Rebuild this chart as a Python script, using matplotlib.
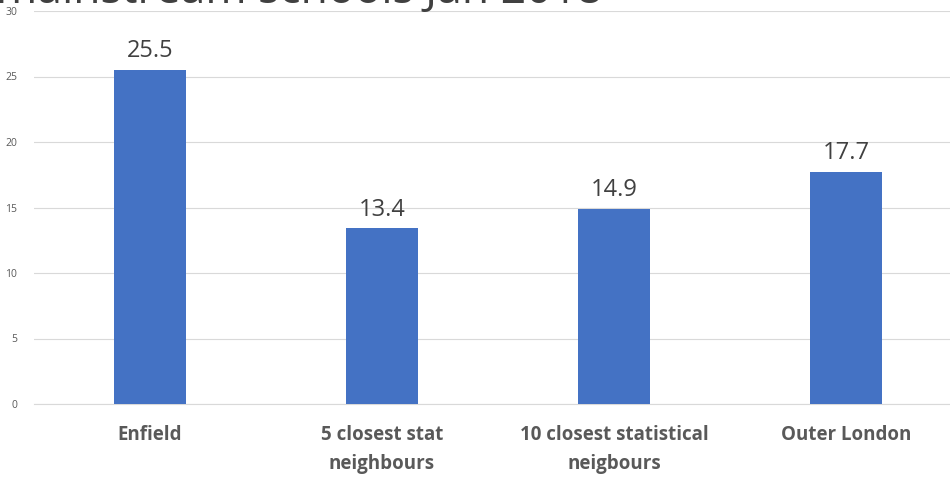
import matplotlib.pyplot as plt

categories = ['Enfield', '5 closest stat\nneighbours', '10 closest statistical\nneigbours', 'Outer London']
values = [25.5, 13.4, 14.9, 17.7]
yticks = [0, 5, 10, 15, 20, 25, 30]
title = 'mainstream schools Jan 2018'

bar_color = '#4472C4'
text_gray = '#595959'

fig = plt.figure(figsize=(9.5, 4.78), dpi=100)
ax = fig.add_axes([34 / 950, 1 - 404 / 478, 1 - 34 / 950, (404 - 11) / 478])

x = range(len(categories))
bars = ax.bar(x, values, width=0.31, color=bar_color, zorder=3)

# value labels above each bar
for xi, v in zip(x, values):
    ax.annotate(f'{v}', (xi, v), xytext=(0, 5), textcoords='offset points',
                ha='center', va='bottom', fontsize=17, color='#404040',
                family='Open Sans')

ax.set_xlim(-0.5, 3.448)
ax.set_ylim(0, 30)
ax.set_yticks(yticks)
ax.set_yticklabels([str(t) for t in yticks], fontsize=7.5, color=text_gray, family='Open Sans')
ax.set_xticks(list(x))
ax.set_xticklabels(categories, fontsize=13.5, fontweight='bold', color=text_gray,
                   family='Open Sans', linespacing=1.6)
ax.tick_params(axis='y', length=0, pad=12)
ax.tick_params(axis='x', length=0, pad=15)

ax.grid(axis='y', color='#D9D9D9', linewidth=0.8, zorder=0)
for side in ['top', 'right', 'left']:
    ax.spines[side].set_visible(False)
ax.spines['bottom'].set_color('#D9D9D9')

# title sits mostly above the top edge
fig.text(-0.004, 1 - 3.5 / 478, title, fontsize=32, color='#404040', family='Open Sans',
         ha='left', va='baseline')

fig.savefig('out.png', dpi=100)
